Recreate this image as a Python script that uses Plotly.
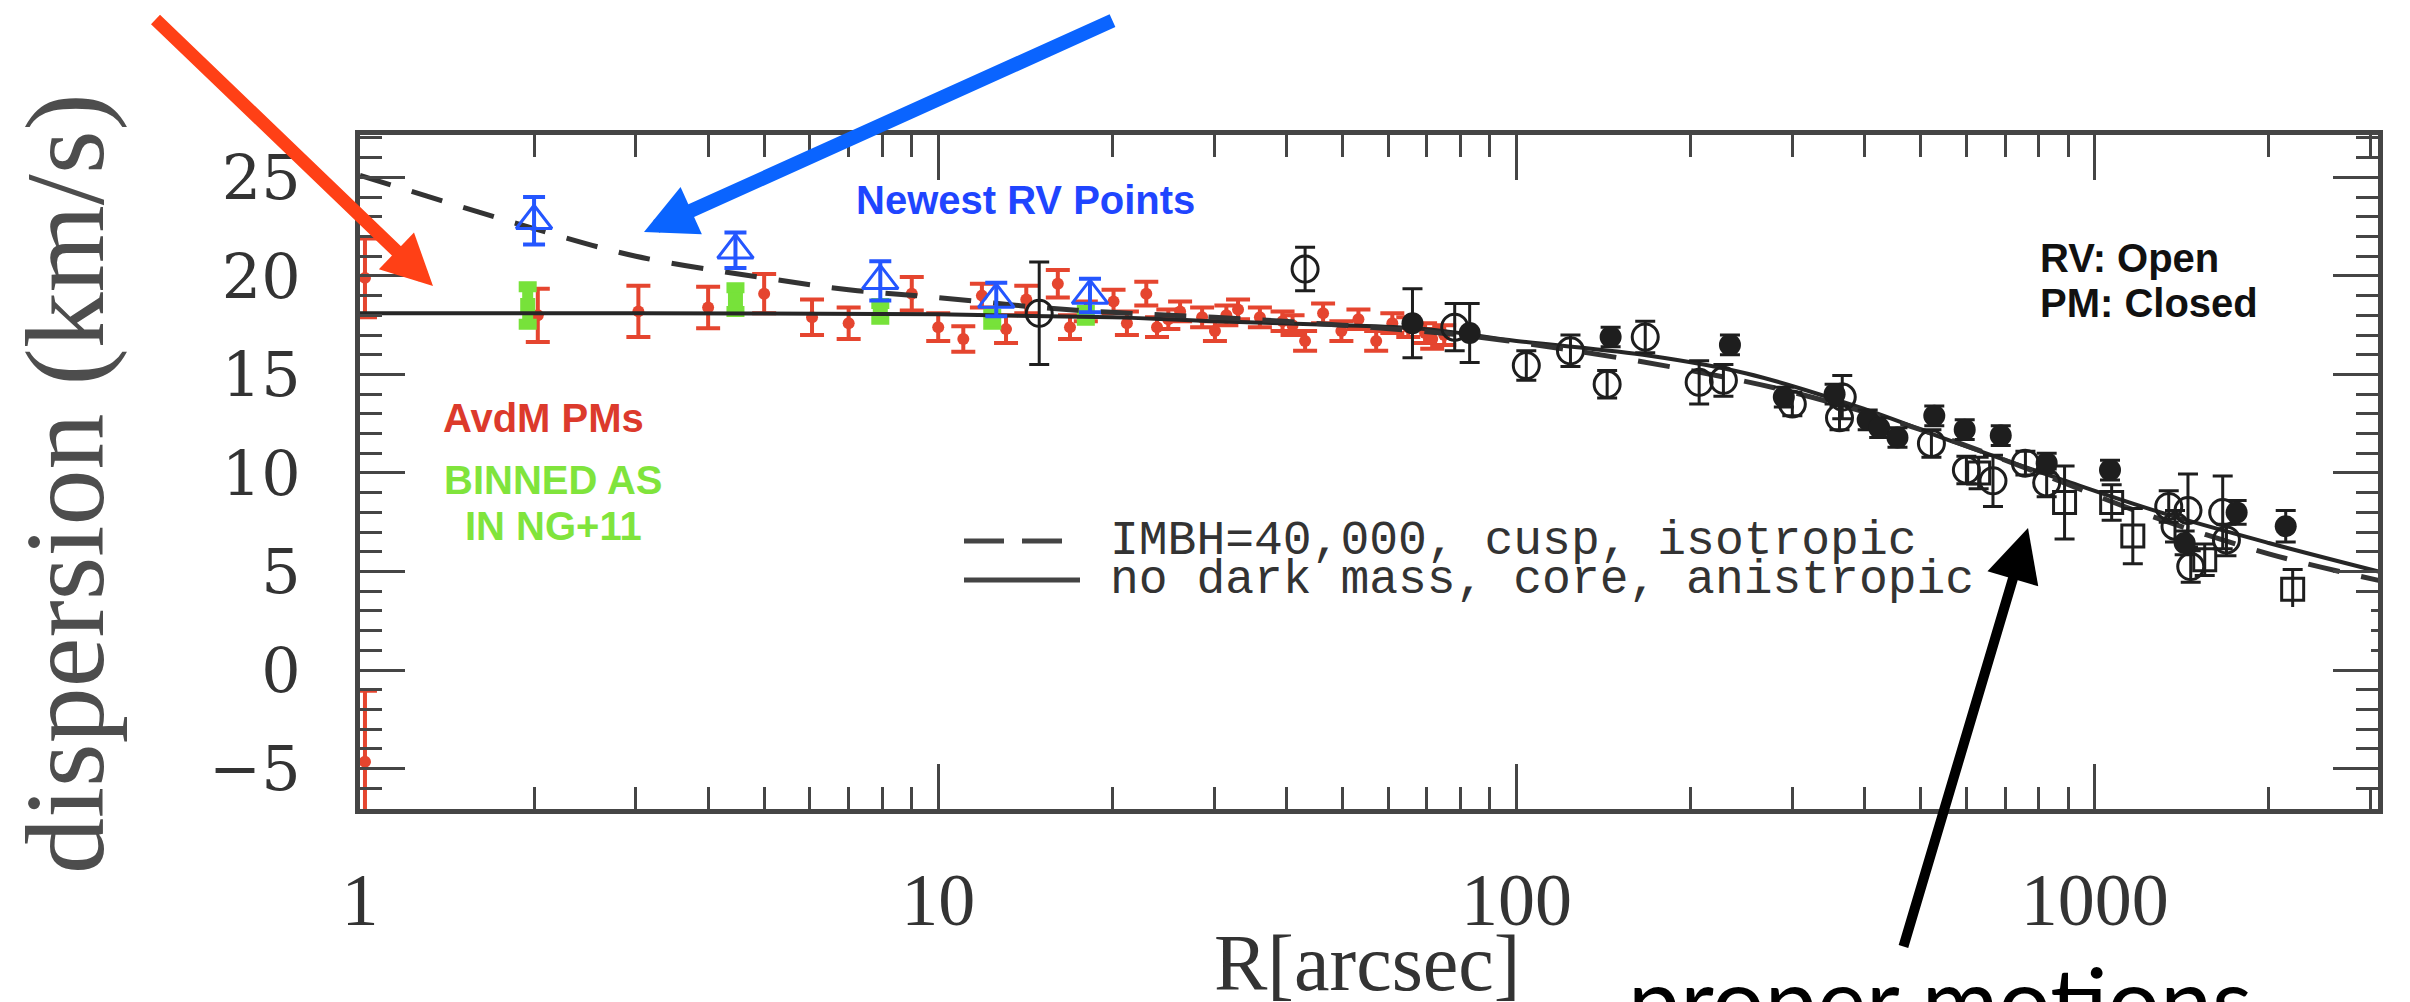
import plotly.graph_objects as go

# ---------------- data ----------------
# AvdM proper-motion points (red)
red_r = [1.02, 1.02, 2.03, 3.03, 4.0, 5.0, 6.05, 7.0, 9.0, 10.0, 11.05, 11.9, 13.1, 14.2,
         16.1, 16.9, 18.0, 20.1, 21.2, 22.9, 23.9, 25.0, 26.2, 28.6, 30.1, 31.5, 33.0, 36.0,
         39.4, 41.0, 43.1, 46.3, 49.8, 53.3, 57.2, 61.0, 65.0, 69.5, 71.5, 75.0]
red_v = [19.9, -4.65, 18.0, 18.2, 18.4, 19.1, 17.9, 17.6, 19.1, 17.4, 16.8, 19.0, 17.3, 18.8,
         19.6, 17.4, 18.2, 18.7, 17.6, 19.1, 17.4, 17.8, 18.2, 17.9, 17.2, 18.0, 18.3, 17.9,
         17.7, 17.5, 16.7, 18.1, 17.2, 17.8, 16.7, 17.6, 17.4, 17.1, 16.8, 17.0]
red_e = [2.0, 3.6, 1.35, 1.3, 1.05, 1.0, 0.9, 0.8, 0.85, 0.7, 0.65, 0.6, 0.7, 0.7,
         0.7, 0.6, 0.5, 0.6, 0.6, 0.6, 0.5, 0.5, 0.5, 0.5, 0.5, 0.5, 0.5, 0.5,
         0.5, 0.5, 0.5, 0.5, 0.5, 0.5, 0.5, 0.5, 0.5, 0.5, 0.5, 0.5]

# binned as in NG+11 (green)
green_r = [1.95, 4.46, 7.94, 12.4, 18.0]
green_v = [18.5, 18.8, 18.2, 17.8, 18.0]
green_e = [0.95, 0.6, 0.4, 0.25, 0.25]

# newest RV points (blue)
blue_r = [2.0, 4.46, 7.94, 12.6, 18.3]
blue_v = [22.8, 21.3, 19.75, 18.8, 19.0]
blue_e = [1.2, 0.9, 1.0, 0.85, 0.85]

# RV (open circles)
rv_r = [14.95, 43.1, 78.2, 104, 124, 143.5, 167, 207, 228, 300, 366, 362, 522, 600, 667,
        759, 826, 1343, 1377, 1450, 1466, 1665, 1690]
rv_v = [18.1, 20.35, 17.4, 15.45, 16.2, 14.5, 16.9, 14.6, 14.7, 13.5, 13.85, 12.8, 11.5, 10.15, 9.6,
        10.5, 9.5, 8.3, 7.3, 8.1, 5.25, 8.0, 6.6]
rv_e = [2.6, 1.1, 1.2, 0.75, 0.8, 0.7, 0.8, 1.1, 0.8, 0.6, 1.1, 0.6, 0.7, 0.7, 1.3,
        0.6, 0.7, 0.8, 0.8, 1.85, 0.8, 1.85, 0.8]

# RV (open squares)
rvsq_r = [630, 887, 1070, 1164, 1550, 2200]
rvsq_v = [10.0, 8.5, 8.5, 6.8, 5.6, 4.1]
rvsq_e = [0.8, 1.85, 0.9, 1.4, 0.8, 1.0]

# PM (closed circles)
pm_r = [66.1, 83.0, 145.5, 234, 290, 355, 405, 424, 456, 528, 596, 688, 826, 1063, 1431, 1760, 2140]
pm_v = [17.6, 17.1, 16.9, 16.5, 13.85, 14.0, 12.7, 12.3, 11.8, 12.9, 12.2, 11.9, 10.5, 10.15, 6.45, 8.0, 7.3]
pm_e = [1.75, 1.5, 0.5, 0.5, 0.5, 0.5, 0.5, 0.5, 0.5, 0.5, 0.5, 0.5, 0.5, 0.5, 0.6, 0.6, 0.8]

# models
imbh_r = [1, 1.5, 2, 3, 5, 7, 10, 15, 20, 30, 50, 80, 120, 200, 300, 500, 800, 1200, 2000, 3100]
imbh_v = [25.1, 23.5, 22.4, 21.0, 19.9, 19.3, 18.9, 18.4, 18.15, 17.9, 17.5, 17.0, 16.3, 15.2, 14.1, 12.2,
          10.0, 8.0, 5.9, 4.55]
core_r = [1, 3, 10, 20, 30, 50, 70, 100, 170, 250, 390, 580, 880, 1300, 2000, 3100]
core_v = [18.1, 18.1, 18.05, 17.9, 17.7, 17.5, 17.3, 16.7, 15.95, 15.05, 13.35, 11.5, 9.65, 8.0, 6.45, 5.0]

y_ticks = [-5, 0, 5, 10, 15, 20, 25]
x_ticks = [1, 10, 100, 1000]
x_ticktext = ["1", "10", "100", "1000"]

# ---------------- layout geometry ----------------
W, H = 2410, 1002
ML, MR, MT, MB = 360, 32, 135, 193
PW, PH = W - ML - MR, H - MT - MB


def px(X):
    return (X - ML) / PW


def py(Y):
    return (H - MB - Y) / PH


RED = "#e5452f"
GREEN = "#77e23a"
BLUE = "#2456ff"
BLK = "#1e1e1e"

fig = go.Figure()

fig.add_trace(go.Scatter(
    x=red_r, y=red_v, mode="markers",
    marker=dict(symbol="circle", size=12, color=RED),
    error_y=dict(type="data", array=red_e, color=RED, thickness=4, width=12),
))
fig.add_trace(go.Scatter(
    x=green_r, y=green_v, mode="markers",
    marker=dict(symbol="square", size=15, color=GREEN),
    error_y=dict(type="data", array=green_e, color=GREEN, thickness=11, width=9),
))
fig.add_trace(go.Scatter(
    x=core_r, y=core_v, mode="lines", line=dict(color="#262626", width=4, shape="spline"),
))
fig.add_trace(go.Scatter(
    x=imbh_r, y=imbh_v, mode="lines",
    line=dict(color="#333333", width=5, dash="32px,22px", shape="spline"),
))
fig.add_trace(go.Scatter(
    x=blue_r, y=blue_v, mode="markers",
    marker=dict(symbol="triangle-up-open", size=31, color=BLUE, line=dict(width=3, color=BLUE)),
    error_y=dict(type="data", array=blue_e, color=BLUE, thickness=4, width=11),
))
fig.add_trace(go.Scatter(
    x=rv_r, y=rv_v, mode="markers",
    marker=dict(symbol="circle-open", size=26, color=BLK, line=dict(width=3, color=BLK)),
    error_y=dict(type="data", array=rv_e, color=BLK, thickness=3, width=10),
))
fig.add_trace(go.Scatter(
    x=rvsq_r, y=rvsq_v, mode="markers",
    marker=dict(symbol="square-open", size=22, color=BLK, line=dict(width=3, color=BLK)),
    error_y=dict(type="data", array=rvsq_e, color=BLK, thickness=3, width=10),
))
fig.add_trace(go.Scatter(
    x=pm_r, y=pm_v, mode="markers",
    marker=dict(symbol="circle", size=22, color=BLK),
    error_y=dict(type="data", array=pm_e, color=BLK, thickness=3, width=10),
))

AX = "#454545"
minor_x = [m * 10 ** k for k in range(4) for m in range(2, 10)]

fig.update_xaxes(
    type="log", range=[0, 3.49], tickvals=x_ticks, ticktext=x_ticktext,
    ticks="inside", ticklen=45, tickwidth=3, tickcolor=AX,
    showline=True, linewidth=5, linecolor=AX, mirror="ticks",
    showgrid=False, zeroline=False,
    tickfont=dict(family="Liberation Serif", size=74, color="#333333"),
    ticklabelstandoff=22,
    minor=dict(tickvals=minor_x, ticks="inside", ticklen=22, tickwidth=3, tickcolor=AX, showgrid=False),
)
fig.update_yaxes(
    range=[-7.05, 27.15], tickvals=y_ticks,
    ticks="inside", ticklen=45, tickwidth=3, tickcolor=AX,
    showline=True, linewidth=5, linecolor=AX, mirror="ticks",
    showgrid=False, zeroline=False,
    tickfont=dict(family="DejaVu Serif", size=62, color="#333333"),
    ticklabelstandoff=42,
    minor=dict(dtick=1, ticks="inside", ticklen=22, tickwidth=3, tickcolor=AX, showgrid=False),
)

shapes = [
    # white patch pasted over the lower-right part of the frame
    dict(type="rect", xref="paper", yref="paper", x0=px(920), x1=px(2371), y0=py(663), y1=py(607),
         fillcolor="white", line=dict(width=0), layer="above"),
    # legend samples
    dict(type="line", xref="paper", yref="paper", x0=px(964), x1=px(1080), y0=py(541), y1=py(541),
         line=dict(color="#444444", width=5, dash="40px,18px")),
    dict(type="line", xref="paper", yref="paper", x0=px(964), x1=px(1080), y0=py(580), y1=py(580),
         line=dict(color="#444444", width=5)),
]

SANS_B = "Liberation Sans"
ann = []


def txt(text, X, Y, size, color, family, xanchor="center", yanchor="middle", angle=0, bold=False):
    ann.append(dict(text=("<b>%s</b>" % text) if bold else text, x=px(X), y=py(Y),
                    xref="paper", yref="paper", showarrow=False, xanchor=xanchor, yanchor=yanchor,
                    textangle=angle, font=dict(family=family, size=size, color=color)))


txt("Newest RV Points", 1025, 200, 40, "#1f45ff", SANS_B, bold=True)
txt("RV: Open", 2038, 258, 40, "#111111", SANS_B, xanchor="left", bold=True)
txt("PM: Closed", 2038, 303, 40, "#111111", SANS_B, xanchor="left", bold=True)
txt("AvdM PMs", 543, 418, 40, "#dc3a2c", SANS_B, bold=True)
txt("BINNED AS", 553, 480, 40, "#80e43c", SANS_B, bold=True)
txt("IN NG+11", 553, 526, 40, "#80e43c", SANS_B, bold=True)
txt("IMBH=40,000, cusp, isotropic", 1108, 541, 48, "#333333", "Liberation Mono", xanchor="left")
txt("no dark mass, core, anistropic", 1108, 580, 48, "#333333", "Liberation Mono", xanchor="left")
txt("R[arcsec]", 1367, 963, 80, "#333333", "Liberation Serif")
txt("dispersion (km/s)", 65, 484, 112, "#4d4d4d", "Liberation Serif", angle=-90)
txt("proper motions", 1940, 941, 93, "#000000", "Lato", yanchor="top")


def arrow(tipX, tipY, tailX, tailY, color, width, size):
    ann.append(dict(text="", x=px(tipX), y=py(tipY), xref="paper", yref="paper",
                    ax=tailX - tipX, ay=tailY - tipY, axref="pixel", ayref="pixel",
                    showarrow=True, arrowhead=2, arrowsize=size, arrowwidth=width, arrowcolor=color))


arrow(433, 286, 154, 18, "#ff4016", 13, 0.78)
arrow(644, 232, 1114, 20, "#0a64ff", 14, 0.74)
arrow(2028, 528, 1903, 948, "#000000", 10, 1.06)

fig.update_layout(
    width=W, height=H, margin=dict(l=ML, r=MR, t=MT, b=MB, pad=0),
    paper_bgcolor="white", plot_bgcolor="white", showlegend=False,
    shapes=shapes, annotations=ann,
)

fig.write_html("out.html")
